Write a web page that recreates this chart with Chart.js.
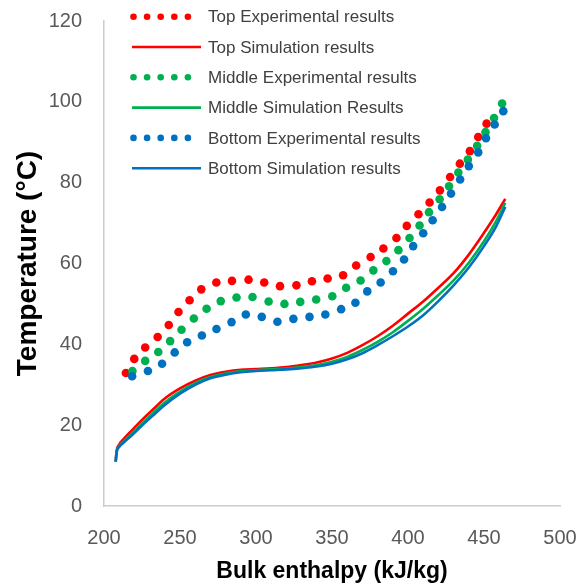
<!DOCTYPE html>
<html>
<head>
<meta charset="utf-8">
<script src="https://cdn.jsdelivr.net/npm/chart.js@4.4.1/dist/chart.umd.min.js"></script>
<style>
    html, body { margin: 0; padding: 0; background: #ffffff; }
</style>
</head>
<body>
<canvas id="grafico" width="579" height="585"></canvas>
<script>
// Pontos experimentais: entalpia (kJ/kg) e temperatura (°C)
const topoExpH = [214.4, 219.9, 227.1, 235.3, 242.6, 249.0, 256.3, 264.0, 273.9, 284.2, 295.1, 305.4, 315.8, 326.6, 336.8,
    347.1, 357.3, 365.9, 375.4, 383.8, 392.4, 399.2, 406.9, 414.2, 421.0, 427.7, 434.1, 440.7, 446.2, 451.7];
const topoExpT = [32.9, 36.4, 39.2, 41.8, 44.8, 48.0, 50.9, 53.6, 55.3, 55.7, 56.0, 55.3, 54.4, 54.6, 55.6,
    56.3, 57.1, 59.5, 61.6, 63.7, 66.3, 69.3, 72.2, 75.1, 78.1, 81.4, 84.7, 87.8, 91.3, 94.6];

const meioExpH = [218.7, 227.1, 235.7, 243.5, 251.0, 259.1, 267.5, 276.8, 287.2, 297.7, 308.3, 318.7, 329.1, 339.6, 350.2, 359.3,
    368.8, 377.2, 385.8, 393.7, 401.0, 407.6, 413.8, 420.8, 427.0, 433.1, 439.4, 445.5, 451.0, 456.6, 461.9];
const meioExpT = [33.4, 35.9, 38.1, 40.8, 43.6, 46.4, 48.8, 50.7, 51.6, 51.7, 50.6, 50.0, 50.5, 51.1, 51.9, 54.0,
    55.8, 58.3, 60.6, 63.3, 66.3, 69.4, 72.7, 75.9, 79.1, 82.5, 85.7, 89.1, 92.5, 96.0, 99.6];

const baseExpH = [218.5, 228.9, 238.2, 246.5, 254.7, 264.4, 274.0, 283.9, 293.3, 303.8, 314.1, 324.6, 335.2, 345.6, 356.0, 365.4,
    373.2, 382.0, 390.1, 397.4, 403.4, 410.0, 416.2, 422.4, 428.3, 434.3, 440.0, 446.2, 451.3, 457.0, 462.7];
const baseExpT = [32.1, 33.4, 35.2, 38.0, 40.5, 42.2, 43.8, 45.5, 47.4, 46.8, 45.6, 46.3, 46.8, 47.4, 48.7, 50.3,
    53.1, 55.3, 58.1, 61.0, 64.3, 67.5, 70.7, 74.0, 77.3, 80.8, 84.1, 87.5, 91.0, 94.4, 97.7];

// Curvas da simulação (mesmo eixo de entalpia para as três)
const simH = [207.7, 208.3, 210, 213, 218, 225, 232, 240, 250, 260, 270, 280, 290, 300, 310, 320,
    330, 340, 350, 360, 370, 380, 390, 400, 410, 420, 430, 440, 450, 458, 464];
const topoSimT = [11, 13.6, 15.2, 16.6, 18.6, 21.3, 23.8, 26.6, 29.1, 31.0, 32.4, 33.2, 33.7, 33.9, 34.1, 34.4,
    34.9, 35.5, 36.5, 37.9, 39.8, 42.0, 44.6, 47.6, 50.6, 54.0, 57.6, 62.2, 67.6, 72.2, 76.0];
const meioSimT = [11, 13.4, 14.8, 16.0, 17.8, 20.4, 22.9, 25.6, 28.3, 30.4, 31.9, 32.8, 33.3, 33.6, 33.8, 34.0,
    34.4, 34.9, 35.7, 36.9, 38.6, 40.6, 43.0, 45.8, 48.8, 52.2, 55.8, 60.2, 65.5, 70.5, 75.0];
const baseSimT = [11, 13.3, 14.6, 15.7, 17.4, 19.9, 22.3, 25.0, 27.8, 30.0, 31.6, 32.5, 33.1, 33.4, 33.6, 33.8,
    34.1, 34.5, 35.2, 36.3, 37.8, 39.8, 42.0, 44.4, 47.2, 50.7, 54.6, 59.0, 64.3, 69.2, 74.0];

const vermelho = '#FF0000';
const verde = '#00B050';
const azul = '#0070C0';

function pares(xs, ys) {
    return xs.map((x, i) => ({ x: x, y: ys[i] }));
}

function pontos(label, xs, ys, cor, ordem) {
    return {
        label: label,
        data: pares(xs, ys),
        showLine: false,
        pointRadius: 4.3,
        pointHoverRadius: 4.3,
        pointBorderWidth: 0,
        pointBackgroundColor: cor,
        borderColor: cor,
        backgroundColor: cor,
        order: ordem
    };
}

function curva(label, xs, ys, cor, ordem) {
    return {
        label: label,
        data: pares(xs, ys),
        showLine: true,
        pointRadius: 0,
        borderWidth: 2.6,
        borderColor: cor,
        backgroundColor: cor,
        cubicInterpolationMode: 'monotone',
        fill: false,
        order: ordem
    };
}

// Legenda desenhada dentro da área do gráfico
const legendaPlugin = {
    id: 'legenda',
    afterDraw(chart) {
        const ctx = chart.ctx;
        ctx.save();
        chart.data.datasets.forEach((ds, i) => {
            const y = 16.7 + i * 30.3;
            ctx.fillStyle = ds.borderColor;
            ctx.strokeStyle = ds.borderColor;
            if (ds.showLine) {
                ctx.lineWidth = 2.6;
                ctx.beginPath();
                ctx.moveTo(132, y);
                ctx.lineTo(201, y);
                ctx.stroke();
            } else {
                for (let k = 0; k < 5; k++) {
                    ctx.beginPath();
                    ctx.arc(133.5 + k * 13.6, y, 3.3, 0, Math.PI * 2);
                    ctx.fill();
                }
            }
            ctx.fillStyle = '#404040';
            ctx.font = '17px "Liberation Sans", Arial, sans-serif';
            ctx.textAlign = 'left';
            ctx.textBaseline = 'middle';
            ctx.fillText(ds.label, 208, y + 1);
        });
        ctx.restore();
    }
};

const ctx = document.getElementById('grafico').getContext('2d');
new Chart(ctx, {
    type: 'scatter',
    data: {
        datasets: [
            pontos('Top Experimental results', topoExpH, topoExpT, vermelho, 6),
            curva('Top Simulation results', simH, topoSimT, vermelho, 3),
            pontos('Middle Experimental results', meioExpH, meioExpT, verde, 5),
            curva('Middle Simulation Results', simH, meioSimT, verde, 2),
            pontos('Bottom Experimental results', baseExpH, baseExpT, azul, 4),
            curva('Bottom Simulation results', simH, baseSimT, azul, 1)
        ]
    },
    options: {
        responsive: false,
        animation: false,
        layout: { padding: { top: 21, right: 19, left: 0, bottom: 0 } },
        plugins: {
            legend: { display: false },
            tooltip: { enabled: false }
        },
        scales: {
            x: {
                type: 'linear',
                min: 200,
                max: 500,
                // altura fixa do eixo e sem folga extra dos rótulos nas pontas
                afterFit: (scale) => {
                    scale.height = 79;
                    scale.paddingLeft = 0;
                    scale.paddingRight = 0;
                },
                ticks: {
                    stepSize: 50,
                    color: '#595959',
                    padding: 20,
                    font: { family: '"Liberation Sans", Arial, sans-serif', size: 20 }
                },
                grid: { display: false, drawTicks: false },
                border: { display: true, color: '#cccccc', width: 1.5 },
                title: {
                    display: true,
                    text: 'Bulk enthalpy (kJ/kg)',
                    color: '#000000',
                    padding: { top: 0, bottom: 0 },
                    font: { family: '"Liberation Sans", Arial, sans-serif', size: 23, weight: 'bold' }
                }
            },
            y: {
                min: 0,
                max: 120,
                afterFit: (scale) => {
                    scale.width = 104;
                    scale.paddingTop = 0;
                    scale.paddingBottom = 0;
                },
                ticks: {
                    stepSize: 20,
                    color: '#595959',
                    padding: 22,
                    font: { family: '"Liberation Sans", Arial, sans-serif', size: 20 }
                },
                grid: { display: false, drawTicks: false },
                border: { display: true, color: '#cccccc', width: 1.5 },
                title: {
                    display: true,
                    text: 'Temperature (°C)',
                    color: '#000000',
                    padding: { top: 11, bottom: 0 },
                    font: { family: '"Liberation Sans", Arial, sans-serif', size: 28, weight: 'bold' }
                }
            }
        }
    },
    plugins: [legendaPlugin]
});
</script>
</body>
</html>
